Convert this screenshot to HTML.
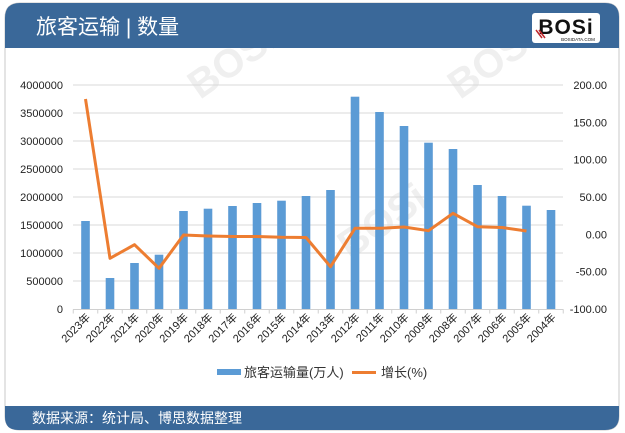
<!DOCTYPE html>
<html><head><meta charset="utf-8"><style>
html,body{margin:0;padding:0;background:#fff;}
body{width:625px;height:433px;overflow:hidden;position:relative;font-family:"Liberation Sans","Noto Sans CJK SC",sans-serif;}
</style></head><body>
<svg width="625" height="433" viewBox="0 0 625 433" xmlns="http://www.w3.org/2000/svg" style="position:absolute;left:0;top:0">
<!-- card -->
<path d="M20,3 H605 Q619,3 619,17 V416 Q619,430 605,430 H20 Q5,430 5,416 V18 Q5,3 20,3 Z" fill="#fff" stroke="#c9c9c9" stroke-width="1"/>

<!-- faint watermarks -->
<g fill="#efefef" font-family="'Liberation Sans','Noto Sans CJK SC',sans-serif">
<text x="0" y="0" font-size="40" font-weight="bold" transform="translate(200,100) rotate(-35)">BOSi</text>
<text x="0" y="0" font-size="40" font-weight="bold" transform="translate(460,100) rotate(-35)">BOSi</text>
<text x="0" y="0" font-size="40" font-weight="bold" transform="translate(350,260) rotate(-35)">BOSi</text>
</g>

<!-- title bar -->
<path d="M20,3 H605 Q619,3 619,17 V48 H5 V18 Q5,3 20,3 Z" fill="#3a6899"/>
<!-- footer bar -->
<path d="M5,406 H619 V416 Q619,430 605,430 H18 Q5,430 5,417 Z" fill="#3a6899"/>
<text x="36" y="34" font-size="21" fill="#fff" font-family="'Liberation Sans','Noto Sans CJK SC',sans-serif">旅客运输 | 数量</text>
<text x="32" y="423" font-size="14" fill="#fff" font-family="'Liberation Sans','Noto Sans CJK SC',sans-serif">数据来源：统计局、博思数据整理</text>
<!-- logo -->
<rect x="532" y="13" width="68" height="30" rx="3" fill="#fff"/>
<text x="566" y="34" font-size="21" font-weight="bold" fill="#111" text-anchor="middle" font-family="'Liberation Sans',sans-serif" letter-spacing="1">BOSi</text>
<path d="M536,30 l6,8 M539,30 l6,8" stroke="#c0282d" stroke-width="1.5"/>
<text x="578" y="41" font-size="4.5" fill="#111" text-anchor="middle" font-family="'Liberation Sans',sans-serif">BOSIDATA.COM</text>

<!-- gridlines -->
<g stroke="#d9d9d9" stroke-width="1">
<line x1="73" y1="85" x2="563" y2="85"/>
<line x1="73" y1="113" x2="563" y2="113"/>
<line x1="73" y1="141" x2="563" y2="141"/>
<line x1="73" y1="169" x2="563" y2="169"/>
<line x1="73" y1="197" x2="563" y2="197"/>
<line x1="73" y1="225" x2="563" y2="225"/>
<line x1="73" y1="253" x2="563" y2="253"/>
<line x1="73" y1="281" x2="563" y2="281"/>
</g>

<!-- bars -->
<g fill="#5b9bd5">
<rect x="81.2" y="221" width="8.6" height="88"/>
<rect x="105.7" y="278" width="8.6" height="31"/>
<rect x="130.2" y="263" width="8.6" height="46"/>
<rect x="154.7" y="254.7" width="8.6" height="54.3"/>
<rect x="179.2" y="211" width="8.6" height="98"/>
<rect x="203.7" y="208.7" width="8.6" height="100.3"/>
<rect x="228.2" y="206" width="8.6" height="103"/>
<rect x="252.7" y="203" width="8.6" height="106"/>
<rect x="277.2" y="200.7" width="8.6" height="108.3"/>
<rect x="301.7" y="196" width="8.6" height="113"/>
<rect x="326.2" y="190" width="8.6" height="119"/>
<rect x="350.7" y="96.7" width="8.6" height="212.3"/>
<rect x="375.2" y="112" width="8.6" height="197"/>
<rect x="399.7" y="126" width="8.6" height="183"/>
<rect x="424.2" y="142.7" width="8.6" height="166.3"/>
<rect x="448.7" y="149" width="8.6" height="160"/>
<rect x="473.2" y="185" width="8.6" height="124"/>
<rect x="497.7" y="196" width="8.6" height="113"/>
<rect x="522.2" y="205.7" width="8.6" height="103.3"/>
<rect x="546.7" y="210" width="8.6" height="99"/>
</g>

<!-- x axis -->
<g stroke="#d0d0d0" stroke-width="1">
<line x1="73" y1="309.5" x2="563.5" y2="309.5"/>
<path d="M73.25,309.5v4 M97.75,309.5v4 M122.25,309.5v4 M146.75,309.5v4 M171.25,309.5v4 M195.75,309.5v4 M220.25,309.5v4 M244.75,309.5v4 M269.25,309.5v4 M293.75,309.5v4 M318.25,309.5v4 M342.75,309.5v4 M367.25,309.5v4 M391.75,309.5v4 M416.25,309.5v4 M440.75,309.5v4 M465.25,309.5v4 M489.75,309.5v4 M514.25,309.5v4 M538.75,309.5v4 M563.25,309.5v4"/>
</g>

<!-- line -->
<polyline fill="none" stroke="#ed7d31" stroke-width="3" stroke-linejoin="round" points="85.5,99 110,258.3 134.5,244.7 159,268.3 183.5,235 208,236 232.5,236.5 257,236.5 281.5,237.3 306,237.5 330.5,266.7 355,228.3 379.5,228.3 404,227 428.5,230.7 453,213.3 477.5,226.7 502,227.5 526.5,231"/>

<!-- left axis labels -->
<g font-size="11" fill="#222" text-anchor="end" font-family="'Liberation Sans',sans-serif">
<text x="63" y="89">4000000</text>
<text x="63" y="117">3500000</text>
<text x="63" y="145">3000000</text>
<text x="63" y="173">2500000</text>
<text x="63" y="201">2000000</text>
<text x="63" y="229">1500000</text>
<text x="63" y="257">1000000</text>
<text x="63" y="285">500000</text>
<text x="63" y="313">0</text>
</g>
<!-- right axis labels -->
<g font-size="11" fill="#222" text-anchor="end" font-family="'Liberation Sans',sans-serif">
<text x="607" y="89">200.00</text>
<text x="607" y="126.3">150.00</text>
<text x="607" y="163.7">100.00</text>
<text x="607" y="201">50.00</text>
<text x="607" y="238.3">0.00</text>
<text x="607" y="275.7">-50.00</text>
<text x="607" y="313">-100.00</text>
</g>

<!-- x labels -->
<g font-size="11" fill="#222" text-anchor="end" font-family="'Liberation Sans','Noto Sans CJK SC',sans-serif">
<text transform="translate(91,318) rotate(-45)">2023年</text>
<text transform="translate(115.5,318) rotate(-45)">2022年</text>
<text transform="translate(140,318) rotate(-45)">2021年</text>
<text transform="translate(164.5,318) rotate(-45)">2020年</text>
<text transform="translate(189,318) rotate(-45)">2019年</text>
<text transform="translate(213.5,318) rotate(-45)">2018年</text>
<text transform="translate(238,318) rotate(-45)">2017年</text>
<text transform="translate(262.5,318) rotate(-45)">2016年</text>
<text transform="translate(287,318) rotate(-45)">2015年</text>
<text transform="translate(311.5,318) rotate(-45)">2014年</text>
<text transform="translate(336,318) rotate(-45)">2013年</text>
<text transform="translate(360.5,318) rotate(-45)">2012年</text>
<text transform="translate(385,318) rotate(-45)">2011年</text>
<text transform="translate(409.5,318) rotate(-45)">2010年</text>
<text transform="translate(434,318) rotate(-45)">2009年</text>
<text transform="translate(458.5,318) rotate(-45)">2008年</text>
<text transform="translate(483,318) rotate(-45)">2007年</text>
<text transform="translate(507.5,318) rotate(-45)">2006年</text>
<text transform="translate(532,318) rotate(-45)">2005年</text>
<text transform="translate(556.5,318) rotate(-45)">2004年</text>
</g>

<!-- legend -->
<rect x="217" y="369" width="24" height="6" fill="#5b9bd5"/>
<text x="244" y="377" font-size="13" fill="#333" font-family="'Liberation Sans','Noto Sans CJK SC',sans-serif">旅客运输量(万人)</text>
<line x1="352" y1="372.5" x2="376" y2="372.5" stroke="#ed7d31" stroke-width="3"/>
<text x="381" y="377" font-size="13" fill="#333" font-family="'Liberation Sans','Noto Sans CJK SC',sans-serif">增长(%)</text>
</svg>
</body></html>
